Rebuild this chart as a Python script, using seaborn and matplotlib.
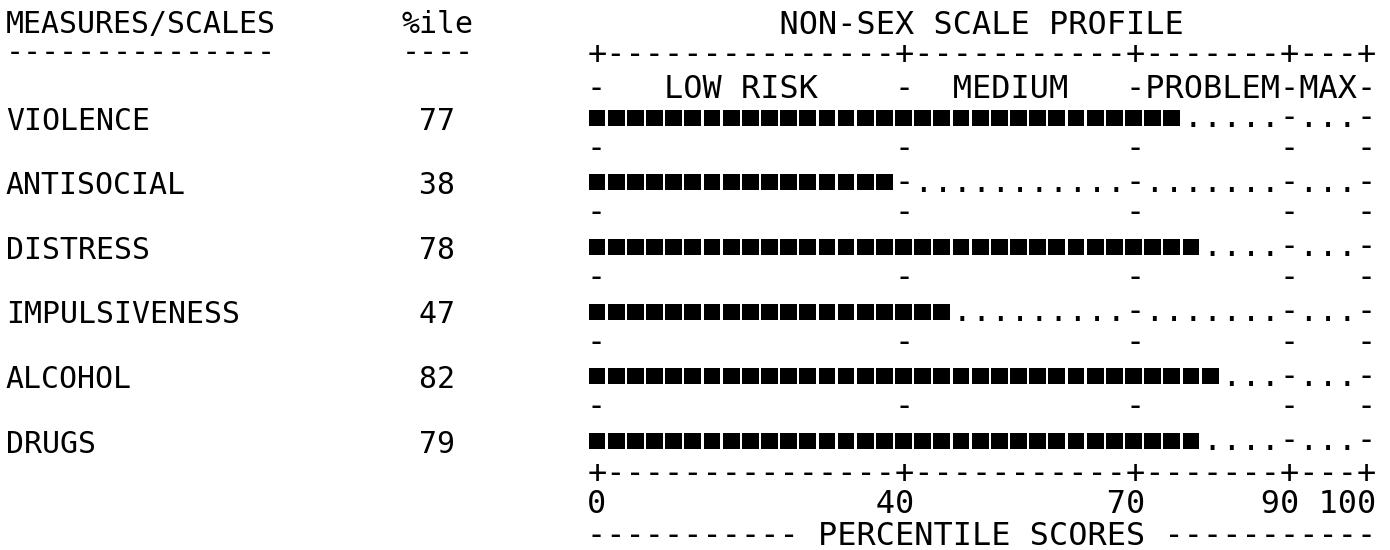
import numpy as np
import pandas as pd
import matplotlib
matplotlib.use("Agg")
import matplotlib.pyplot as plt
import seaborn as sns
from matplotlib.textpath import TextPath
from matplotlib.font_manager import FontProperties
from matplotlib.path import Path
from matplotlib import transforms

# ---------------- data ----------------
measures = ["VIOLENCE", "ANTISOCIAL", "DISTRESS", "IMPULSIVENESS", "ALCOHOL", "DRUGS"]
percentiles = [77, 38, 78, 47, 82, 79]
zone_bounds = [0, 40, 70, 90, 100]
zone_labels = ["LOW RISK", "MEDIUM", "PROBLEM", "MAX"]
tick_labels = ["0", "40", "70", "90", "100"]
title = "NON-SEX SCALE PROFILE"
x_title = "PERCENTILE SCORES"
head_measure = "MEASURES/SCALES"
head_pct = "%ile"

# ---------------- style / layout ----------------
sns.set_theme(style="white")
MONO = "DejaVu Sans Mono"
plt.rcParams["font.family"] = [MONO, "DejaVu Sans"]

W, H, DPI = 1390, 550, 100
CELL = 2.5                      # percentile units per character cell
NCELL = int(round(100 / CELL))  # 40 cells -> 41 character positions
ADV = 0.60205                   # DejaVu Sans Mono advance (em)

X0_PX, PITCH_PX = 597.0, 19.16          # right panel: centre of cell 0, cell pitch
ROW0_PX, ROW_PX = 117.8, 64.6           # centre of first measure row, row pitch
RIGHT_FS = PITCH_PX / ADV * 72 / DPI
LEFT_X0_PX, LEFT_PITCH_PX = 5.8, 17.98  # left table
LEFT_FS = LEFT_PITCH_PX / ADV * 72 / DPI

fig = plt.figure(figsize=(W / DPI, H / DPI), dpi=DPI)
fig.patch.set_facecolor("white")
ax = fig.add_axes([0, 0, 1, 1])
px_per_pct = PITCH_PX / CELL
ax.set_xlim(-X0_PX / px_per_pct, (W - X0_PX) / px_per_pct)


def px2row(py):
    return (py - ROW0_PX) / ROW_PX


def row2px(r):
    return ROW0_PX + r * ROW_PX


ax.set_ylim(px2row(H), px2row(0))
ax.axis("off")
left_tr = transforms.blended_transform_factory(ax.transAxes, ax.transData)


def ink_mid_px(ref, size):
    tp = TextPath((0, 0), ref, size=size, prop=FontProperties(family=MONO))
    e = tp.get_extents()
    return (e.y0 + e.y1) / 2 * DPI / 72


def put(x, center_px, s, size, ref=None, transform=None, **kw):
    base_px = center_px + ink_mid_px(ref if ref else s, size)
    ax.text(x, px2row(base_px), s, fontsize=size, family=MONO, va="baseline",
            ha="left", color="black", transform=transform or ax.transData, **kw)


def left_x(col):
    return (LEFT_X0_PX + col * LEFT_PITCH_PX) / W


# ---------------- left table ----------------
put(left_x(0), 21.7, head_measure, LEFT_FS, ref="H", transform=left_tr)
put(left_x(22), 21.7, head_pct, LEFT_FS, ref="H", transform=left_tr)
put(left_x(0), 53.0, "-" * len(head_measure), LEFT_FS, transform=left_tr)
put(left_x(22), 53.0, "-" * len(head_pct), LEFT_FS, transform=left_tr)
for r, (name, v) in enumerate(zip(measures, percentiles)):
    put(left_x(0), row2px(r) + 1.0, name, LEFT_FS, ref="H", transform=left_tr)
    put(left_x(22), row2px(r) + 1.0, f"{v:>3d}", LEFT_FS, ref="H", transform=left_tr)

# ---------------- right panel ----------------
bcells = [int(round(b / CELL)) for b in zone_bounds]
npos = NCELL + 1
x_left = -CELL / 2  # left edge of first character cell

ruler = "".join("+" if i in bcells else "-" for i in range(npos))
dashrow = "".join("-" if i in bcells else " " for i in range(npos))

zone = list(dashrow)
for lab, a, b in zip(zone_labels, bcells[:-1], bcells[1:]):
    first, width = a + 1, b - a - 1
    start = first + (width - len(lab)) // 2
    zone[start:start + len(lab)] = list(lab)
zone = "".join(zone)

ticks = [" "] * npos
for lab, c in zip(tick_labels, bcells):
    ticks[c - len(lab) + 1:c + 1] = list(lab)
ticks = "".join(ticks)

t_pad = (npos - len(title)) // 2
title_row = " " * t_pad + title

xl = f" {x_title} "
nd = (npos - len(xl)) // 2
xlabel_row = "-" * nd + xl + "-" * (npos - len(xl) - nd)

put(x_left, 22.5, title_row, RIGHT_FS, ref="H")
put(x_left, 54.5, ruler, RIGHT_FS, ref="+")
put(x_left, 86.0, zone, RIGHT_FS, ref="H")

# bars: one black block per filled character cell
blocks = pd.DataFrame(
    [(r, i * CELL) for r, v in enumerate(percentiles)
     for i in range(int(np.ceil(v / CELL)))],
    columns=["row", "x"])
bw_px, bh_px = 16.8, 16.2
h = bh_px / bw_px
block_marker = Path([(-1, -h), (1, -h), (1, h), (-1, h), (-1, -h)],
                    [Path.MOVETO, Path.LINETO, Path.LINETO, Path.LINETO, Path.CLOSEPOLY])
sns.scatterplot(data=blocks, x="x", y="row", marker=block_marker,
                s=(bw_px * 72 / DPI) ** 2, color="black", linewidth=0,
                edgecolor="none", legend=False, ax=ax)

# remainder of each bar track (dots and zone marks)
for r, v in enumerate(percentiles):
    n = int(np.ceil(v / CELL))
    rest = "".join(" " if i < n else ("-" if i in bcells else ".") for i in range(npos))
    put(x_left, row2px(r) + 7.0, rest, RIGHT_FS, ref=".")
    if r < len(percentiles) - 1:
        put(x_left, row2px(r + 0.5) - 1.0, dashrow, RIGHT_FS, ref="-")

put(x_left, 473.3, ruler, RIGHT_FS, ref="+")
put(x_left, 501.0, ticks, RIGHT_FS, ref="H")
put(x_left, 533.3, xlabel_row, RIGHT_FS, ref="H")

fig.savefig("out.png", dpi=DPI, facecolor="white")
